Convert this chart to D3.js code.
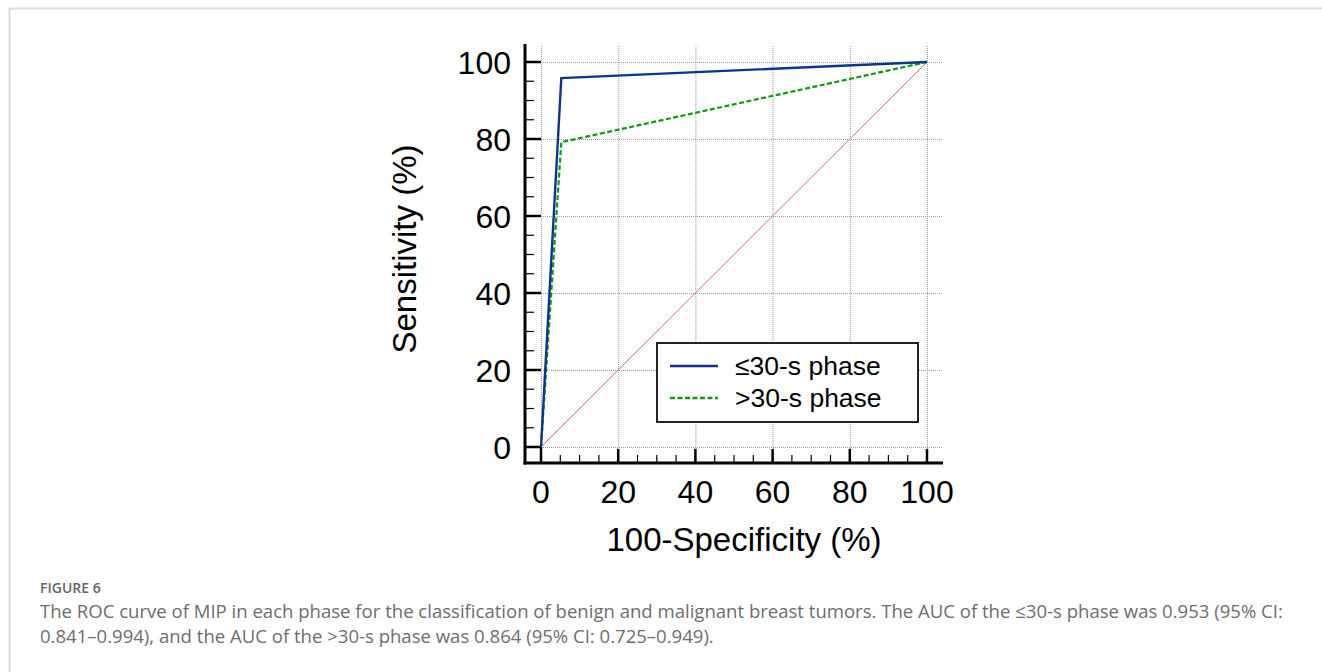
<!DOCTYPE html>
<html>
<head>
<meta charset="utf-8">
<script src="https://d3js.org/d3.v7.min.js"></script>
<style>
  body { margin: 0; background: #fff; }
  .chart { font-family: "Liberation Sans", Arial, sans-serif; }
  .caption { font-family: "Open Sans", sans-serif; }
</style>
</head>
<body>
<script>
// ROC points (100-specificity, sensitivity)
var early = [[0, 0], [5.26, 95.83], [100, 100]];   // <=30-s phase
var late = [[0, 0], [5.26, 79.17], [100, 100]];    // >30-s phase
var diag = [[0, 0], [100, 100]];
var majorTicks = [0, 20, 40, 60, 80, 100];
var minorTicks = d3.range(0, 101, 5).filter(function (d) { return d % 20 != 0; });
var seriesNames = ["\u226430-s phase", ">30-s phase"];
var captionLines = [
  "The ROC curve of MIP in each phase for the classification of benign and malignant breast tumors. The AUC of the \u226430-s phase was 0.953 (95% CI:",
  "0.841\u20130.994), and the AUC of the >30-s phase was 0.864 (95% CI: 0.725\u20130.949)."
];

var svg = d3.select("body").append("svg")
  .attr("width", 1322)
  .attr("height", 672);

// card border
svg.append("path")
  .attr("d", "M9.5,672 V8.5 H1322")
  .attr("fill", "none")
  .attr("stroke", "#dcdcdc")
  .attr("stroke-width", 2);

var x = d3.scaleLinear().domain([0, 100]).range([541, 927]);
var y = d3.scaleLinear().domain([0, 100]).range([447, 62]);

var axisX = 525, axisY = 463;
var chart = svg.append("g").attr("class", "chart");

// grid
var grid = chart.append("g")
  .attr("stroke", "#9a9a9a")
  .attr("stroke-width", 1)
  .attr("stroke-dasharray", "1,1");
grid.selectAll(".gv").data(majorTicks).enter().append("line")
  .attr("x1", function (d) { return x(d) + 0.5; })
  .attr("x2", function (d) { return x(d) + 0.5; })
  .attr("y1", 46).attr("y2", axisY);
grid.selectAll(".gh").data(majorTicks).enter().append("line")
  .attr("x1", x(0)).attr("x2", 942)
  .attr("y1", function (d) { return y(d) + 0.5; })
  .attr("y2", function (d) { return y(d) + 0.5; });

// axes
var ax = chart.append("g").attr("stroke", "#000");
ax.append("line").attr("x1", axisX).attr("x2", axisX).attr("y1", 44).attr("y2", axisY + 1.5).attr("stroke-width", 3);
ax.append("line").attr("x1", axisX - 1.5).attr("x2", 943).attr("y1", axisY).attr("y2", axisY).attr("stroke-width", 3);

ax.selectAll(".ymaj").data(majorTicks).enter().append("line")
  .attr("x1", axisX).attr("x2", function (d) { return d == 0 ? x(0) : axisX + 16; })
  .attr("y1", function (d) { return y(d); }).attr("y2", function (d) { return y(d); })
  .attr("stroke-width", 2.5);
ax.selectAll(".ymin").data(minorTicks).enter().append("line")
  .attr("x1", axisX).attr("x2", axisX + 9)
  .attr("y1", function (d) { return y(d); }).attr("y2", function (d) { return y(d); })
  .attr("stroke-width", 1.2);
ax.selectAll(".xmaj").data(majorTicks).enter().append("line")
  .attr("y1", axisY).attr("y2", function (d) { return d == 0 ? y(0) : axisY - 14; })
  .attr("x1", function (d) { return x(d); }).attr("x2", function (d) { return x(d); })
  .attr("stroke-width", 2.5);
ax.selectAll(".xmin").data(minorTicks).enter().append("line")
  .attr("y1", axisY).attr("y2", axisY - 8)
  .attr("x1", function (d) { return x(d); }).attr("x2", function (d) { return x(d); })
  .attr("stroke-width", 1.2);

// tick labels
chart.selectAll(".ylab").data(majorTicks).enter().append("text")
  .attr("x", 511).attr("y", function (d) { return y(d) + 11.5; })
  .attr("text-anchor", "end")
  .attr("font-size", 32)
  .text(function (d) { return d; });
chart.selectAll(".xlab").data(majorTicks).enter().append("text")
  .attr("x", function (d) { return x(d); }).attr("y", 503)
  .attr("text-anchor", "middle")
  .attr("font-size", 32)
  .text(function (d) { return d; });

// titles
chart.append("text")
  .attr("x", 744).attr("y", 551)
  .attr("text-anchor", "middle")
  .attr("font-size", 33)
  .text("100-Specificity (%)");
chart.append("text")
  .attr("transform", "translate(416,249) rotate(-90)")
  .attr("text-anchor", "middle")
  .attr("font-size", 33)
  .text("Sensitivity (%)");

// curves
var line = d3.line()
  .x(function (d) { return x(d[0]); })
  .y(function (d) { return y(d[1]); });

chart.append("path").datum(diag)
  .attr("d", line).attr("fill", "none")
  .attr("stroke", "#e06a6a").attr("stroke-width", 1);
chart.append("path").datum(late)
  .attr("d", line).attr("fill", "none")
  .attr("stroke", "#109a10").attr("stroke-width", 2.2)
  .attr("stroke-dasharray", "5,2.5");
chart.append("path").datum(early)
  .attr("d", line).attr("fill", "none")
  .attr("stroke", "#0b3591").attr("stroke-width", 2.4);

// legend
var leg = chart.append("g");
leg.append("rect")
  .attr("x", 657).attr("y", 343).attr("width", 261).attr("height", 79)
  .attr("fill", "#fff").attr("stroke", "#222").attr("stroke-width", 2);
var legStyle = [
  { color: "#0b3591", dash: null },
  { color: "#109a10", dash: "5,2.5" }
];
seriesNames.forEach(function (name, i) {
  var ly = 366 + i * 32;
  leg.append("line")
    .attr("x1", 670).attr("x2", 718).attr("y1", ly).attr("y2", ly)
    .attr("stroke", legStyle[i].color).attr("stroke-width", 2.4)
    .attr("stroke-dasharray", legStyle[i].dash);
  leg.append("text")
    .attr("x", 735).attr("y", ly + 9)
    .attr("font-size", 26.5)
    .text(name);
});

// caption
var cap = svg.append("g").attr("class", "caption");
cap.append("text")
  .attr("x", 40).attr("y", 593)
  .attr("font-size", 14).attr("font-weight", 600)
  .attr("fill", "#666")
  .text("FIGURE 6");
var capText = cap.selectAll(".cap").data(captionLines).enter().append("text")
  .attr("x", 40).attr("y", function (d, i) { return 618 + i * 25; })
  .attr("font-size", 16)
  .attr("fill", "#6e6e6e")
  .text(function (d) { return d; });
// fit the first line to the width of the original caption column
var w0 = capText.node().getComputedTextLength();
var fs = 16 * 1243 / w0;
capText.attr("font-size", fs);
</script>
</body>
</html>
